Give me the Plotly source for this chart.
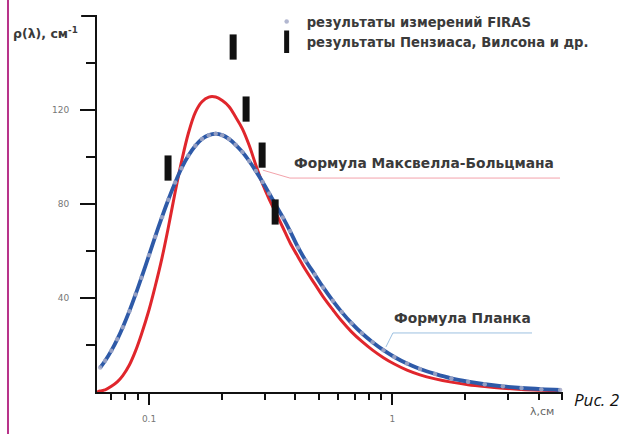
import plotly.graph_objects as go

# ---- data ----
lam = [0.063, 0.066, 0.07, 0.074, 0.078, 0.083, 0.088, 0.093, 0.1, 0.106, 0.113, 0.12,
       0.128, 0.136, 0.145, 0.155, 0.165, 0.176, 0.188, 0.2, 0.213, 0.227, 0.242, 0.258,
       0.275, 0.293, 0.312, 0.333, 0.355, 0.38, 0.41, 0.44, 0.48, 0.52, 0.57, 0.62, 0.68,
       0.75, 0.83, 0.92, 1.02, 1.15, 1.3, 1.5, 1.75, 2.05, 2.4, 2.85, 3.4, 4.1, 4.9]

planck = [10.4, 13.3, 17.6, 22.4, 27.6, 34.4, 41.5, 48.6, 58.2, 66.1, 74.4, 81.8,
          89.1, 95.2, 100.5, 104.8, 107.7, 109.3, 109.9, 109.3, 107.7, 105.2, 102.1, 98.3,
          94.0, 89.4, 84.5, 79.3, 74.3, 68.5, 61.5, 56.0, 50.0, 44.5, 38.8, 34.0, 29.3,
          25.0, 21.2, 17.8, 14.9, 12.1, 9.8, 7.7, 5.8, 4.4, 3.3, 2.4, 1.7, 1.2, 0.85]

firas = planck  # FIRAS measurements lie on the Planck curve

lam_mb = [0.061] + lam
maxwell = [0.0, 0.4, 0.9, 2.4, 4.3, 7.0, 11.5, 17.5, 24.5, 35.0, 45.0, 57.0, 70.0,
           85.0, 98.0, 110.0, 119.0, 123.5, 125.5, 125.5, 124.0, 121.5, 117.0, 112.0, 105.0,
           96.5, 88.5, 82.0, 76.0, 70.0, 63.5, 57.5, 52.0, 46.0, 40.5, 35.0, 30.2, 25.6,
           21.5, 17.8, 14.6, 11.9, 9.3, 7.3, 5.6, 4.2, 3.1, 2.3, 1.6, 1.1, 0.75, 0.5]

pw_lam = [0.1197, 0.2217, 0.2506, 0.2917, 0.330]
pw_rho = [95.3, 146.8, 120.4, 100.8, 76.6]

y_tickvals = [40, 80, 120]
y_ticktext = ["40", "80", "120"]
y_minor = [20, 60, 100, 140]
x_tickvals = [0.1, 1]
x_ticktext = ["0.1", "1"]
x_minor = [0.07, 0.08, 0.09, 0.2, 0.3, 0.4, 0.5, 0.6, 0.7, 0.8, 0.9, 2, 3, 4, 5]

TXT = "#3a3a3a"
FONT = "'DejaVu Sans', sans-serif"

fig = go.Figure()

fig.add_trace(go.Scatter(x=lam_mb, y=maxwell, mode="lines", line=dict(color="#e0262c", width=3, shape="spline"),
                         showlegend=False, hoverinfo="skip"))
fig.add_trace(go.Scatter(x=lam, y=planck, mode="lines", line=dict(color="#2e5aa8", width=3.8, shape="spline"),
                         showlegend=False, hoverinfo="skip"))
fig.add_trace(go.Scatter(x=lam, y=firas, mode="markers", name="результаты измерений FIRAS",
                         marker=dict(symbol="circle", size=4.5, color="rgba(165,170,200,0.85)")))
fig.add_trace(go.Scatter(x=pw_lam, y=pw_rho, mode="markers", name="результаты Пензиаса, Вилсона и др.",
                         marker=dict(symbol="line-ns", size=18, line=dict(width=7, color="#111111"))))

fig.update_layout(
    width=623, height=434,
    margin=dict(l=97, r=60, t=16, b=42, autoexpand=False),
    paper_bgcolor="white", plot_bgcolor="white",
    font=dict(family=FONT, color=TXT),
    legend=dict(x=0.428, y=0.985, xref="container", yref="container",
                xanchor="left", yanchor="top", bgcolor="rgba(0,0,0,0)",
                font=dict(size=13.2, color=TXT, family=FONT, weight="bold"), tracegroupgap=0,
                itemwidth=30),
    xaxis=dict(type="log", range=[-1.214, 0.702], showgrid=False, zeroline=False,
               showline=True, linecolor="#111", linewidth=2,
               ticks="outside", ticklen=11, tickwidth=2, tickcolor="#111",
               tickvals=x_tickvals, ticktext=x_ticktext, ticklabelstandoff=6,
               tickfont=dict(size=9, color="#777"),
               minor=dict(tickvals=x_minor, ticks="outside", ticklen=6, tickwidth=2, tickcolor="#111")),
    yaxis=dict(range=[0, 160], showgrid=False, zeroline=False,
               showline=True, linecolor="#111", linewidth=2,
               ticks="outside", ticklen=15, tickwidth=2, tickcolor="#111",
               tickvals=y_tickvals, ticktext=y_ticktext, ticklabelstandoff=9,
               tickfont=dict(size=9, color="#777"),
               minor=dict(tickvals=y_minor, ticks="outside", ticklen=9, tickwidth=2, tickcolor="#111")),
)

ann = [
    dict(text="ρ(λ), см<sup>-1</sup>", x=-0.184, y=0.955, xanchor="left", yanchor="middle",
         font=dict(size=12.5, color=TXT, weight="bold")),
    dict(text="Формула Максвелла-Больцмана", x=0.419, y=0.61, xanchor="left", yanchor="middle",
         font=dict(size=13.8, color=TXT, weight="bold")),
    dict(text="Формула Планка", x=0.634, y=0.198, xanchor="left", yanchor="middle",
         font=dict(size=13.8, color=TXT, weight="bold")),
    dict(text="λ,см", x=0.955, y=-0.053, xanchor="center", yanchor="middle",
         font=dict(size=11, color="#666")),
    dict(text="<i>Рис. 2</i>", x=1.02, y=-0.02, xanchor="left", yanchor="middle",
         font=dict(size=17, color="#111", family="'Open Sans', sans-serif")),
]
for a in ann:
    a.update(xref="paper", yref="paper", showarrow=False)
fig.update_layout(annotations=ann)

fig.update_layout(shapes=[
    dict(type="line", xref="paper", yref="paper", x0=-0.191, x1=-0.191, y0=-0.12, y1=1.05,
         line=dict(color="#b8338a", width=2)),
    # top (160) tick of the y axis
    dict(type="line", xref="paper", yref="paper", x0=-0.034, x1=0, y0=1, y1=1,
         line=dict(color="#111", width=2)),
    dict(type="path", xref="paper", yref="paper", path="M 0.356 0.590 L 0.414 0.569 L 0.9936 0.569",
         line=dict(color="#f3a3ab", width=1)),
    dict(type="path", xref="paper", yref="paper", path="M 0.620 0.1197 L 0.635 0.157 L 0.9335 0.157",
         line=dict(color="#9cc0e0", width=1)),
])

fig.write_html("out.html")
